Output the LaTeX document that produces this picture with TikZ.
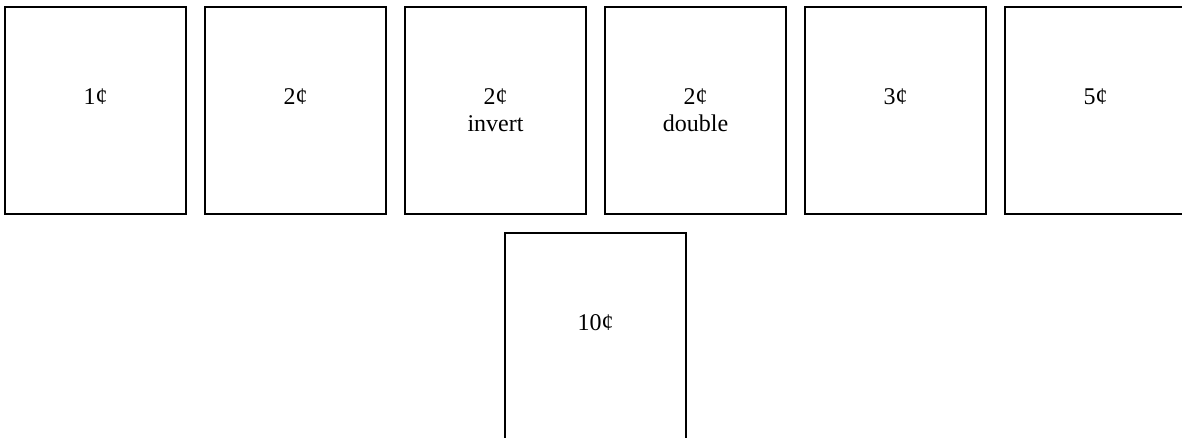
\documentclass[tikz,border=0pt]{standalone}
\usepackage{fontspec}
\setmainfont{Liberation Serif}
\usetikzlibrary{positioning}

\newcommand{\coinlabel}[2]{\begin{tabular}[t]{@{}c@{}}#1\\#2\end{tabular}}

\tikzset{
    coin/.style={draw, line width=1pt, minimum width=135.75pt, minimum height=155.25pt, inner sep=0pt},
    price/.style={font=\fontsize{18}{20.25}\selectfont, anchor=base, inner sep=0pt}
}

\begin{document}
\begin{tikzpicture}[x=0.75pt, y=-0.75pt]
    \useasboundingbox (0,0) rectangle (1182,438);

    % Define the top row of coin boxes
    \node[coin] (A) at (95.5,110.5) {};
    \node[coin] (B) at (295.5,110.5) {};
    \node[coin] (C) at (495.5,110.5) {};
    \node[coin] (D) at (695.5,110.5) {};
    \node[coin] (E) at (895.5,110.5) {};
    \node[coin] (F) at (1095.5,110.5) {};

    % Define the coin box below the row
    \node[coin] (G) at (595.5,336.5) {};

    % Write the values
    \node[price] (a) at (95.5,105) {1¢};
    \node[price] (b) at (295.5,105) {2¢};
    \node[price] (c) at (495.5,105) {\coinlabel{2¢}{invert}};
    \node[price] (d) at (695.5,105) {\coinlabel{2¢}{double}};
    \node[price] (e) at (895.5,105) {3¢};
    \node[price] (f) at (1095.5,105) {5¢};
    \node[price] (g) at (595.5,331) {10¢};
\end{tikzpicture}
\end{document}
